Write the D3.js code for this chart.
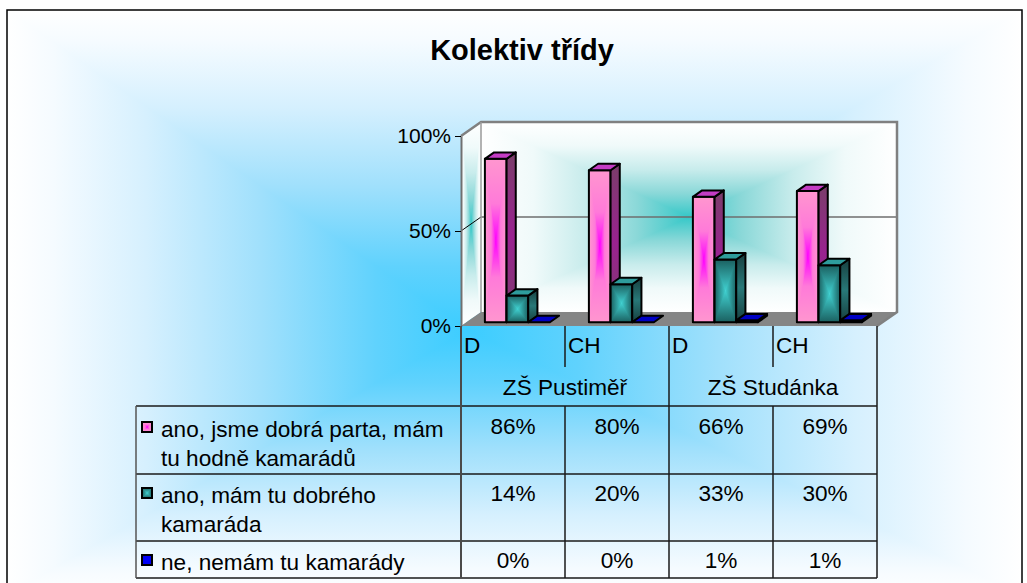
<!DOCTYPE html>
<html>
<head>
<meta charset="utf-8">
<script src="https://cdn.jsdelivr.net/npm/d3@7"></script>
<style>
  body { margin: 0; background: #fff; }
  text { font-family: Arial, "Liberation Sans", sans-serif; fill: #000; }
</style>
</head>
<body>
<div id="chart"></div>
<script>
// data
var categories = ["D", "CH", "D", "CH"];
var groups = ["ZŠ Pustiměř", "ZŠ Studánka"];
var seriesLabels = [
  ["ano, jsme dobrá parta, mám", "tu hodně kamarádů"],
  ["ano, mám tu dobrého", "kamaráda"],
  ["ne, nemám tu kamarády"]
];
var partaValues = [0.86, 0.80, 0.66, 0.69];
var kamaradValues = [0.14, 0.20, 0.33, 0.30];
var nikdoValues = [0.00, 0.00, 0.01, 0.01];
var yTicks = [0, 0.5, 1];

var series = [partaValues, kamaradValues, nikdoValues];
var schemes = ["pink", "teal", "blue"];

var width = 1027, height = 583;
var DX = 20, DY = -14;        // depth of the 3d box
var f0 = 0.27, f1 = 0.73;     // bars sit in the middle of the depth

var svg = d3.select("#chart").append("svg")
  .attr("width", width)
  .attr("height", height);

var defs = svg.append("defs");

// gradient stops, edge -> centre
var stops = {
  bg: [[0, "#ffffff"], [0.1, "#f5fbff"], [0.3, "#d6f0fe"], [0.55, "#a0e0fc"], [0.8, "#60d2fd"], [1, "#3ccdff"]],
  wall: [[0, "#ffffff"], [0.25, "#f0fafa"], [0.5, "#c8ecec"], [0.75, "#8ad8d8"], [1, "#35c8c8"]],
  pink: [[0, "#ff96cf"], [0.55, "#ff7ad9"], [1, "#ff00ff"]],
  teal: [[0, "#1b6060"], [1, "#40d0d0"]],
  blue: [[0, "#0000ee"], [1, "#0000ff"]]
};

Object.keys(stops).forEach(function(k) {
  [["L", 0, 0, 1, 0], ["R", 1, 0, 0, 0], ["T", 0, 0, 0, 1], ["B", 0, 1, 0, 0]].forEach(function(d) {
    var lg = defs.append("linearGradient")
      .attr("id", k + "-" + d[0])
      .attr("x1", d[1]).attr("y1", d[2]).attr("x2", d[3]).attr("y2", d[4]);
    stops[k].forEach(function(s) {
      lg.append("stop").attr("offset", s[0]).attr("stop-color", s[1]);
    });
  });
});

// side faces: dark, a bit lighter in the middle
var sideStops = {
  pink: ["#7a3e6a", "#9a2290"],
  teal: ["#173f3f", "#287878"],
  blue: ["#00008a", "#0000b0"]
};
Object.keys(sideStops).forEach(function(k) {
  var lg = defs.append("linearGradient").attr("id", k + "-side")
    .attr("x1", 0).attr("y1", 0).attr("x2", 0).attr("y2", 1);
  lg.append("stop").attr("offset", 0).attr("stop-color", sideStops[k][0]);
  lg.append("stop").attr("offset", 0.5).attr("stop-color", sideStops[k][1]);
  lg.append("stop").attr("offset", 1).attr("stop-color", sideStops[k][0]);
});
var topColor = { pink: "#c43cc4", teal: "#2e9c9c", blue: "#0000c4" };

// "from centre" rectangular gradient made of two halves and two triangles
function rectGrad(g, x, y, w, h, cx, cy, scheme) {
  g.append("rect").attr("x", x).attr("y", y).attr("width", cx - x + 0.5).attr("height", h)
    .attr("fill", "url(#" + scheme + "-L)");
  g.append("rect").attr("x", cx).attr("y", y).attr("width", x + w - cx).attr("height", h)
    .attr("fill", "url(#" + scheme + "-R)");
  g.append("path").attr("d", "M" + x + "," + y + "L" + (x + w) + "," + y + "L" + cx + "," + cy + "Z")
    .attr("fill", "url(#" + scheme + "-T)");
  g.append("path").attr("d", "M" + x + "," + (y + h) + "L" + (x + w) + "," + (y + h) + "L" + cx + "," + cy + "Z")
    .attr("fill", "url(#" + scheme + "-B)");
}

// chart background + frame
rectGrad(svg.append("g"), 7, 10, 1015, 585, 468, 330, "bg");
svg.append("rect")
  .attr("x", 7).attr("y", 10).attr("width", 1015).attr("height", 600)
  .attr("fill", "none").attr("stroke", "#000").attr("stroke-width", 1.5);

svg.append("text")
  .attr("x", 522).attr("y", 60)
  .attr("text-anchor", "middle")
  .style("font-size", "29px").style("font-weight", "bold")
  .text("Kolektiv třídy");

// scales
var x0 = 461, x1 = 877;
var y = d3.scaleLinear().domain([0, 1]).range([326, 136]);
var xCat = d3.scaleBand().domain(d3.range(categories.length)).range([x0, x1]);
var xSer = d3.scaleBand().domain(d3.range(series.length)).range([18.5, 18.5 + 65]);
var xGroup = d3.scaleBand().domain(d3.range(groups.length)).range([x0, x1]);

function pts(a) { return "M" + a.map(function(p) { return p.join(","); }).join("L") + "Z"; }

var plot = svg.append("g");

// back wall
var bw = plot.append("g");
rectGrad(bw, x0 + DX, y(1) + DY, x1 - x0, y(0) - y(1), (x0 + x1) / 2 + DX, y(0.5) + DY, "wall");

// left wall, clipped to its parallelogram
defs.append("clipPath").attr("id", "leftwall")
  .append("path")
  .attr("d", pts([[x0, y(0)], [x0, y(1)], [x0 + DX, y(1) + DY], [x0 + DX, y(0) + DY]]));
var lw = plot.append("g").attr("clip-path", "url(#leftwall)");
rectGrad(lw, x0, y(1) + DY, DX, y(0) - y(1) - DY, x0 + DX / 2, y(0.5) + DY / 2, "wall");

// floor
plot.append("path")
  .attr("d", pts([[x0, y(0)], [x1, y(0)], [x1 + DX, y(0) + DY], [x0 + DX, y(0) + DY]]))
  .attr("fill", "#858585");

// gridlines
yTicks.filter(function(t) { return t > 0 && t < 1; }).forEach(function(t) {
  plot.append("line")
    .attr("x1", x0 + DX).attr("x2", x1 + DX)
    .attr("y1", y(t) + DY).attr("y2", y(t) + DY)
    .attr("stroke", "#6e6e6e").attr("stroke-width", 1.5);
  plot.append("line")
    .attr("x1", x0).attr("x2", x0 + DX)
    .attr("y1", y(t)).attr("y2", y(t) + DY)
    .attr("stroke", "#000").attr("stroke-width", 1);
});

// wall outlines
plot.append("path")
  .attr("d", "M" + x0 + "," + y(1) + "L" + (x0 + DX) + "," + (y(1) + DY) +
    "L" + (x1 + DX) + "," + (y(1) + DY) + "L" + (x1 + DX) + "," + (y(0) + DY) +
    "L" + x1 + "," + y(0))
  .attr("fill", "none").attr("stroke", "#808080").attr("stroke-width", 2.5);
plot.append("line")
  .attr("x1", x0 + DX).attr("x2", x0 + DX).attr("y1", y(1) + DY).attr("y2", y(0) + DY)
  .attr("stroke", "#9a9a9a").attr("stroke-width", 1.5);

// y axis
var yAxis = d3.axisLeft(y)
  .tickValues(yTicks)
  .tickFormat(d3.format(".0%"))
  .tickSize(6)
  .tickSizeOuter(0)
  .tickPadding(4);
var ax = svg.append("g")
  .attr("transform", "translate(" + x0 + ",0)")
  .call(yAxis);
ax.select(".domain").attr("stroke", "#707070").attr("stroke-width", 2);
ax.selectAll(".tick line").attr("stroke", "#000");
ax.selectAll(".tick text")
  .style("font-size", "21px")
  .style("font-family", "Arial, 'Liberation Sans', sans-serif")
  .attr("fill", "#000");

// bars
var sdx = (f1 - f0) * DX, sdy = (f1 - f0) * DY;
var bars = svg.append("g");
categories.forEach(function(c, i) {
  series.forEach(function(vals, j) {
    var s = schemes[j];
    var w = xSer.bandwidth();
    var bx = xCat(i) + xSer(j) + f0 * DX;
    var yt = y(vals[i]) + f0 * DY;
    var yb = y(0) + f0 * DY;
    var g = bars.append("g");
    if (yb - yt > 0.5) {
      rectGrad(g, bx, yt, w, yb - yt, bx + w / 2, (yt + yb) / 2, s);
      g.append("rect").attr("x", bx).attr("y", yt).attr("width", w).attr("height", yb - yt)
        .attr("fill", "none").attr("stroke", "#000").attr("stroke-width", 2)
        .attr("stroke-linejoin", "round");
      g.append("path")
        .attr("d", pts([[bx + w, yt], [bx + w + sdx, yt + sdy], [bx + w + sdx, yb + sdy], [bx + w, yb]]))
        .attr("fill", "url(#" + s + "-side)")
        .attr("stroke", "#000").attr("stroke-width", 2).attr("stroke-linejoin", "round");
    }
    g.append("path")
      .attr("d", pts([[bx, yt], [bx + sdx, yt + sdy], [bx + w + sdx, yt + sdy], [bx + w, yt]]))
      .attr("fill", topColor[s])
      .attr("stroke", "#000").attr("stroke-width", 2).attr("stroke-linejoin", "round");
  });
});

// data table
var rowLines = [406, 474, 541, 578];
var tbl = svg.append("g");
var lineCol = "#1a1a1a";
var fs = "22.6px";

// horizontal lines
rowLines.forEach(function(ry) {
  tbl.append("line").attr("x1", 136).attr("x2", x1).attr("y1", ry).attr("y2", ry)
    .attr("stroke", lineCol).attr("stroke-width", 1.5);
});
// legend column left edge
tbl.append("line").attr("x1", 136).attr("x2", 136).attr("y1", rowLines[0]).attr("y2", rowLines[3])
  .attr("stroke", "#555").attr("stroke-width", 1.5);
// category separators
categories.forEach(function(c, i) {
  if (i === 0) return;
  var xx = xCat(i);
  var full = (i % 2 === 0);
  tbl.append("line").attr("x1", xx).attr("x2", xx)
    .attr("y1", y(0)).attr("y2", full ? rowLines[3] : 367)
    .attr("stroke", lineCol).attr("stroke-width", 1.5);
  if (!full) {
    tbl.append("line").attr("x1", xx).attr("x2", xx)
      .attr("y1", rowLines[0]).attr("y2", rowLines[3])
      .attr("stroke", lineCol).attr("stroke-width", 1.5);
  }
});
tbl.append("line").attr("x1", x1).attr("x2", x1).attr("y1", y(0)).attr("y2", rowLines[3])
  .attr("stroke", lineCol).attr("stroke-width", 1.5);
tbl.append("line").attr("x1", x0).attr("x2", x0).attr("y1", y(0)).attr("y2", rowLines[3])
  .attr("stroke", "#4a4a4a").attr("stroke-width", 2);

// category + group labels
tbl.selectAll(".cat").data(categories).enter().append("text")
  .attr("x", function(d, i) { return xCat(i) + 3; })
  .attr("y", 353)
  .style("font-size", fs)
  .text(function(d) { return d; });
tbl.selectAll(".grp").data(groups).enter().append("text")
  .attr("x", function(d, i) { return xGroup(i) + xGroup.bandwidth() / 2; })
  .attr("y", 395)
  .attr("text-anchor", "middle")
  .style("font-size", fs)
  .text(function(d) { return d; });

// values
var fmt = d3.format(".0%");
var valueBase = [434, 501, 568];
series.forEach(function(vals, j) {
  tbl.selectAll(".v" + j).data(vals).enter().append("text")
    .attr("x", function(d, i) { return xCat(i) + xCat.bandwidth() / 2; })
    .attr("y", valueBase[j])
    .attr("text-anchor", "middle")
    .style("font-size", fs)
    .text(function(d) { return fmt(d); });
});

// legend keys and labels
var legendBase = [437, 503, 570];
seriesLabels.forEach(function(lines, j) {
  var ky = legendBase[j] - 15;
  var kg = tbl.append("g");
  rectGrad(kg, 142, ky, 10, 10, 147, ky + 5, schemes[j]);
  kg.append("rect").attr("x", 142).attr("y", ky).attr("width", 10).attr("height", 10)
    .attr("fill", "none").attr("stroke", "#000").attr("stroke-width", 2);
  lines.forEach(function(t, k) {
    tbl.append("text")
      .attr("x", 161).attr("y", legendBase[j] + k * 29)
      .style("font-size", fs)
      .text(t);
  });
});
</script>
</body>
</html>
